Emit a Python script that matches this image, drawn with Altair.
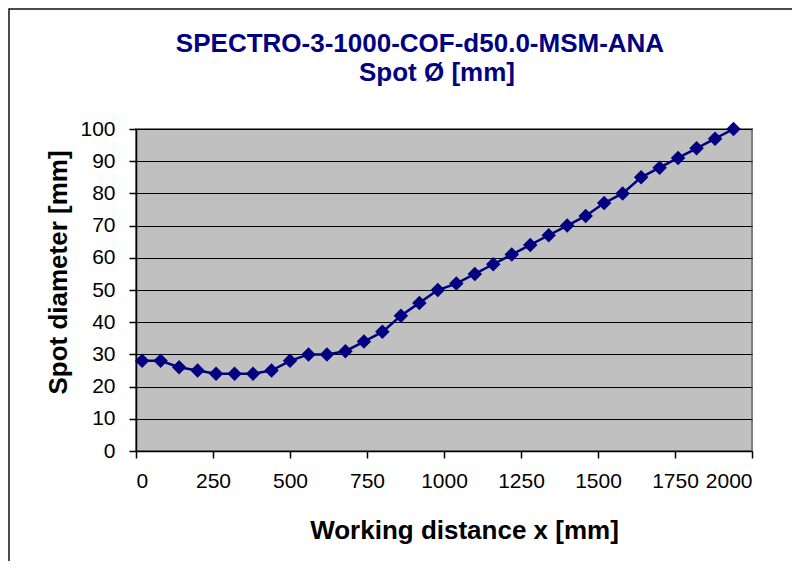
import altair as alt
import pandas as pd

# Working distance x [mm]
distance = [20, 80, 140, 200, 260, 320, 380, 440, 500, 560, 620, 680, 740,
            800, 860, 920, 980, 1040, 1100, 1160, 1220, 1280, 1340, 1400,
            1460, 1520, 1580, 1640, 1700, 1760, 1820, 1880, 1940]
# Spot diameter [mm]
diameter = [28, 28, 26, 25, 24, 24, 24, 25, 28, 30, 30, 31, 34, 37, 42, 46,
            50, 52, 55, 58, 61, 64, 67, 70, 73, 77, 80, 85, 88, 91, 94, 97, 100]

x_ticks = [0, 250, 500, 750, 1000, 1250, 1500, 1750, 2000]
y_ticks = [0, 10, 20, 30, 40, 50, 60, 70, 80, 90, 100]

title_line1 = "SPECTRO-3-1000-COF-d50.0-MSM-ANA"
title_line2 = "Spot Ø [mm]"

df = pd.DataFrame({"x": distance, "y": diameter})
one = pd.DataFrame({"t1": [title_line1], "t2": [title_line2]})

FONT = "Liberation Sans"
NAVY = "#000080"
W, H = 616, 322

x_enc = alt.X("x:Q", scale=alt.Scale(domain=[0, 2000], nice=False),
              axis=alt.Axis(values=x_ticks, format="d",
                            title="Working distance x [mm]",
                            grid=False, tickSize=7, labelPadding=12,
                            titleX=328, titleY=87, titleBaseline="alphabetic",
                            titleAnchor="middle"))
y_enc = alt.Y("y:Q", scale=alt.Scale(domain=[0, 100], nice=False),
              axis=alt.Axis(values=y_ticks, format="d",
                            title="Spot diameter [mm]",
                            grid=True, tickSize=7, labelPadding=14,
                            titleX=-70, titleY=143, titleAngle=270,
                            titleBaseline="alphabetic", titleAnchor="middle"))

line = alt.Chart(df).mark_line(
    color=NAVY, strokeWidth=2.5,
    point=alt.OverlayMarkDef(shape="diamond", size=210, filled=True,
                             color=NAVY, opacity=1),
).encode(x=x_enc, y=y_enc)

frame = alt.Chart(one).mark_rect(
    fill=None, stroke="#111111", strokeWidth=1.5, clip=False
).encode(
    x=alt.value(-127), x2=alt.value(720),
    y=alt.value(-120), y2=alt.value(560),
)

title_style = dict(font=FONT, fontSize=26, fontWeight="bold", color=NAVY,
                   align="center", baseline="alphabetic", clip=False)
t1 = alt.Chart(one).mark_text(**title_style).encode(
    x=alt.value(284), y=alt.value(-77), text="t1:N")
t2 = alt.Chart(one).mark_text(**title_style).encode(
    x=alt.value(301), y=alt.value(-48), text="t2:N")

chart = alt.layer(frame, line, t1, t2).properties(
    width=W, height=H,
    autosize=alt.AutoSizeParams(type="none"),
    padding={"left": 128, "top": 121, "right": 40, "bottom": 110},
).configure(
    background="white"
).configure_view(
    fill="#C0C0C0", stroke="#808080", strokeWidth=2
).configure_axis(
    labelFont=FONT, labelFontSize=21, labelColor="black",
    titleFont=FONT, titleFontSize=26, titleFontWeight="bold",
    titleColor="black", domainColor="black", domainWidth=1.5,
    tickColor="black", tickWidth=1.5, gridColor="black", gridWidth=1,
    gridOpacity=1,
)

chart.save("out.html", embed_options={"renderer": "svg", "actions": False})
